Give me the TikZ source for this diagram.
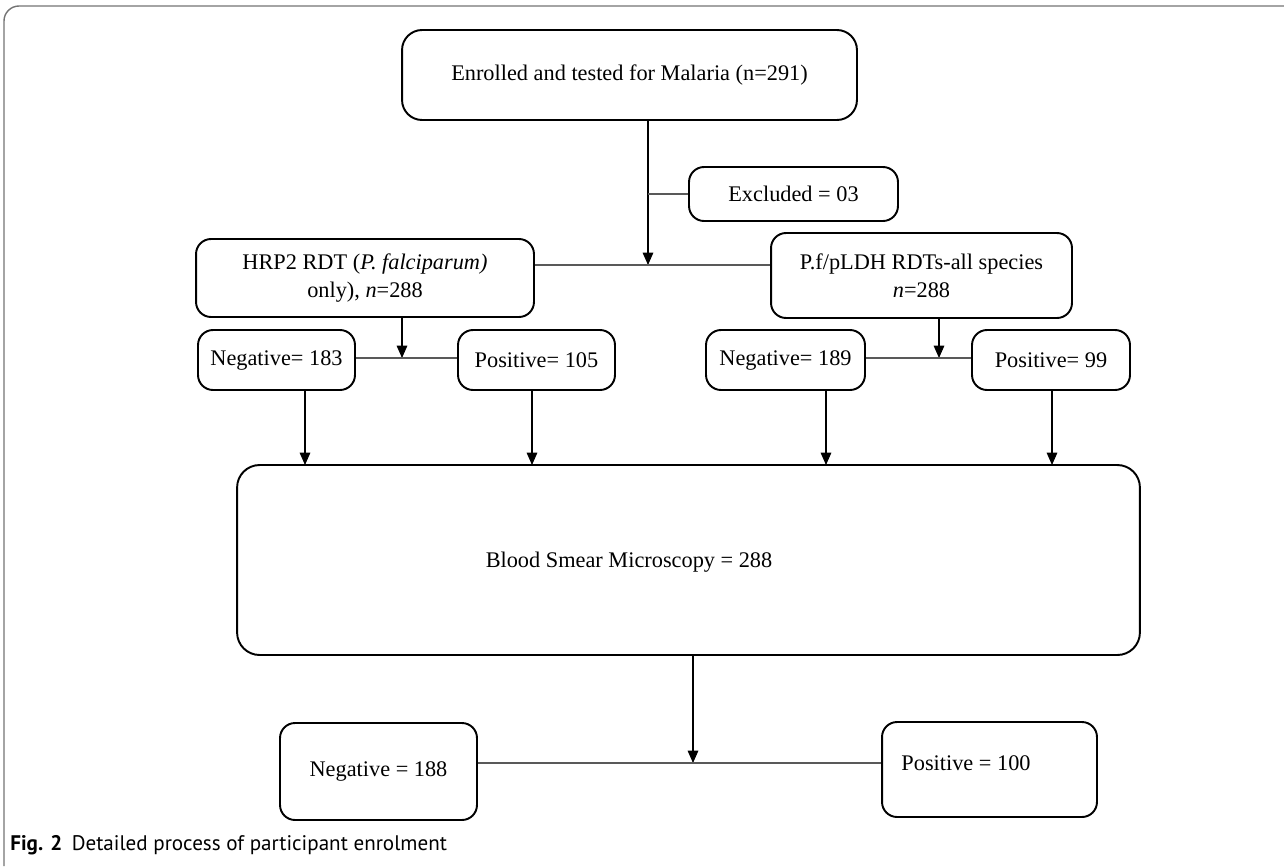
\documentclass[tikz,border=0pt]{standalone}
\usepackage{fontspec}
\setmainfont{Liberation Serif}
\newfontfamily\captionfont{PT Sans}
\usetikzlibrary{arrows.meta}

\begin{document}
\begin{tikzpicture}[x=0.02cm, y=-0.02cm,
		box/.style={draw, line width=1.1pt, rounded corners=0.3cm, align=center, inner sep=0pt, font=\fontsize{12.7}{16}\selectfont},
		txt/.style={inner sep=0pt, font=\fontsize{12.7}{16}\selectfont},
		link/.style={line width=0.6pt, black!65},
		flow/.style={line width=0.6pt, -{Triangle[length=7pt,width=6pt]}},
		frame/.style={line width=0.8pt, black!55, rounded corners=0.3cm}
		]
		
		% Parameters
		\def\mainx{648}
		\def\rowy{358}
		
		\useasboundingbox (0,0) rectangle (1284,866);
		
		% Draw the outer frame
		\draw[frame] (4,866) -- (4,6) -- (1284,6);
		
		% Draw the top boxes
		\node[box, minimum width=9.1cm, minimum height=1.8cm, rounded corners=0.4cm] (enrol) at (629.5,75) {Enrolled and tested for Malaria (n=291)};
		\node[box, minimum width=4.18cm, minimum height=1.08cm] (excl) at (793.5,194) {Excluded = 03};
		\node[box, minimum width=6.76cm, minimum height=1.56cm] (hrp) at (365,278) {HRP2 RDT (\textit{P. falciparum)}\\only), \textit{n}=288};
		\node[box, minimum width=6.02cm, minimum height=1.7cm] (pf) at (921.5,275.5) {P.f/pLDH RDTs-all species\\\textit{n}=288};
		
		% Draw the result boxes
		\node[box, minimum width=3.14cm, minimum height=1.2cm] (negA) at (276.5,360) {Negative= 183};
		\node[box, minimum width=3.14cm, minimum height=1.2cm] (posA) at (536.5,360) {Positive= 105};
		\node[box, minimum width=3.18cm, minimum height=1.2cm] (negB) at (785.5,360) {Negative= 189};
		\node[box, minimum width=3.16cm, minimum height=1.2cm] (posB) at (1051,360) {Positive= 99};
		
		% Draw the microscopy box
		\node[box, minimum width=18.06cm, minimum height=3.8cm, rounded corners=0.45cm] (blood) at (688.5,560) {};
		\node[txt] (bloodtxt) at (629,562) {Blood Smear Microscopy = 288};
		
		% Draw the final boxes
		\node[box, minimum width=3.94cm, minimum height=1.94cm] (negC) at (378.5,771.5) {Negative = 188};
		\node[box, minimum width=4.3cm, minimum height=1.9cm] (posC) at (989.5,769.5) {};
		\node[txt] (posCtxt) at (966,763) {Positive = 100};
		
		% Joints and entry points
		\coordinate (j0) at (\mainx,265);
		\coordinate (j1) at (402,\rowy);
		\coordinate (j2) at (939,\rowy);
		\coordinate (j3) at (693,763);
		\coordinate (in1) at (305,465);
		\coordinate (in2) at (532,465);
		\coordinate (in3) at (826,465);
		\coordinate (in4) at (1052,465);
		
		% Connect top part
		\draw[flow] (enrol.south -| j0) -- (j0);
		\draw[link] (excl.west) -- (excl.west -| j0);
		\draw[link] (hrp.east |- j0) -- (pf.west |- j0);
		
		% Connect RDT results
		\draw[flow] (hrp.south -| j1) -- (j1);
		\draw[link] (negA.east |- j1) -- (posA.west |- j1);
		\draw[flow] (pf.south -| j2) -- (j2);
		\draw[link] (negB.east |- j2) -- (posB.west |- j2);
		
		% Arrows into microscopy
		\draw[flow] (negA.south -| in1) -- (in1);
		\draw[flow] (posA.south -| in2) -- (in2);
		\draw[flow] (negB.south -| in3) -- (in3);
		\draw[flow] (posB.south -| in4) -- (in4);
		
		% Connect microscopy results
		\draw[flow] (blood.south -| j3) -- (j3);
		\draw[link] (negC.east |- j3) -- (posC.west |- j3);
		
		% Caption
		\node[anchor=west, inner sep=0pt, font=\captionfont\fontsize{12}{14}\selectfont] (caption) at (10,845) {\textbf{Fig. 2}\hspace{0.45em}Detailed process of participant enrolment};
		
	\end{tikzpicture}
\end{document}
